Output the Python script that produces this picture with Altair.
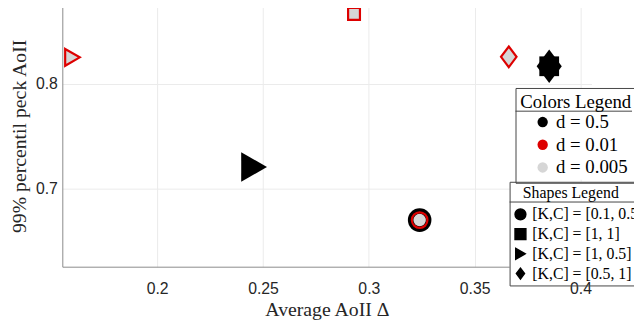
import altair as alt
import pandas as pd

# ---------------- data ----------------
D_LABELS = ["d = 0.5", "d = 0.01", "d = 0.005"]
KC_LABELS = ["[K,C] = [0.1, 0.5]", "[K,C] = [1, 1]", "[K,C] = [1, 0.5]", "[K,C] = [0.5, 1]"]
X_TICKS = [0.2, 0.25, 0.3, 0.35, 0.4]
Y_TICKS = [0.7, 0.8]

# d = 0.5 (black)
black_x = [0.3240, 0.2458, 0.3852, 0.3852]
black_y = [0.6700, 0.7208, 0.8170, 0.8170]
black_kc = ["[K,C] = [0.1, 0.5]", "[K,C] = [1, 0.5]", "[K,C] = [1, 1]", "[K,C] = [0.5, 1]"]

# d = 0.005 (gray)
gray_x = [0.3240, 0.2930, 0.1600, 0.3661]
gray_y = [0.6700, 0.8670, 0.8255, 0.8260]
gray_kc = ["[K,C] = [0.1, 0.5]", "[K,C] = [1, 1]", "[K,C] = [1, 0.5]", "[K,C] = [0.5, 1]"]

# d = 0.01 (red)
red_x = [0.3240, 0.2930, 0.1600, 0.3661]
red_y = [0.6700, 0.8670, 0.8255, 0.8260]
red_kc = ["[K,C] = [0.1, 0.5]", "[K,C] = [1, 1]", "[K,C] = [1, 0.5]", "[K,C] = [0.5, 1]"]

# ---------------- styles ----------------
TRI = "M-0.87,-1L0.87,0L-0.87,1Z"
DIA = "M0,-1L0.75,0L0,1L-0.75,0Z"
SIZES = {
    "d = 0.5": {KC_LABELS[0]: 570, KC_LABELS[1]: 400, KC_LABELS[2]: 900, KC_LABELS[3]: 1156},
    "d = 0.005": {KC_LABELS[0]: 160, KC_LABELS[1]: 144, KC_LABELS[2]: 289, KC_LABELS[3]: 441},
    "d = 0.01": {KC_LABELS[0]: 250, KC_LABELS[1]: 144, KC_LABELS[2]: 289, KC_LABELS[3]: 441},
}


def frame(xs, ys, kcs, d):
    return pd.DataFrame({
        "x": xs, "y": ys, "kc": kcs, "d": [d] * len(xs),
        "sz": [SIZES[d][k] for k in kcs],
    })


df_black = frame(black_x, black_y, black_kc, D_LABELS[0])
df_gray = frame(gray_x, gray_y, gray_kc, D_LABELS[2])
df_red = frame(red_x, red_y, red_kc, D_LABELS[1])

x_scale = alt.Scale(domain=[0.1552, 0.4052], nice=False, zero=False)
y_scale = alt.Scale(domain=[0.6255, 0.8755], nice=False, zero=False)
color_scale = alt.Scale(domain=D_LABELS, range=["#000000", "#dd0000", "#d6d6d6"])
shape_scale = alt.Scale(domain=KC_LABELS, range=["circle", "square", TRI, DIA])

x_enc = alt.X("x:Q", scale=x_scale,
              axis=alt.Axis(values=X_TICKS, format="~g", title="Average AoII Δ",
                            labelPadding=14, titlePadding=3))
y_enc = alt.Y("y:Q", scale=y_scale,
              axis=alt.Axis(values=Y_TICKS, format="~g", title="99% percentil peck AoII",
                            labelPadding=5, titlePadding=6))

# legend boxes (plot-area pixel coordinates)
CL_X, CL_Y, CL_W, CL_H = 459, 84, 118, 93
SL_X, SL_Y, SL_W, SL_H = 453, 179, 200, 100

color_legend = alt.Legend(
    title="Colors Legend", orient="none", legendX=CL_X, legendY=CL_Y,
    strokeColor="#444444", padding=5,
    titleFont="Liberation Serif", titleFontSize=19, titleFontWeight="normal",
    titleColor="black", titleAnchor="middle", titlePadding=1,
    labelFont="Liberation Serif", labelFontSize=19, labelColor="black",
    symbolType="circle", symbolSize=110, symbolOffset=10, labelOffset=4, rowPadding=3,
    symbolOpacity=1, symbolStrokeWidth=0,
)
shape_legend = alt.Legend(
    title=" ", orient="none", legendX=SL_X, legendY=SL_Y,
    strokeColor="#444444", padding=3,
    titleFont="Liberation Serif", titleFontSize=15, titleFontWeight="normal",
    titleColor="black", titlePadding=7,
    labelFont="Liberation Serif", labelFontSize=16, labelColor="black",
    symbolSize=120, rowPadding=2, symbolFillColor="black", symbolStrokeColor="black",
    symbolOpacity=1, labelLimit=300,
)

box_df = pd.DataFrame({"k": [0]})
bg_colors = alt.Chart(box_df).mark_rect(color="white").encode(
    x=alt.value(CL_X), x2=alt.value(CL_X + CL_W), y=alt.value(CL_Y), y2=alt.value(CL_Y + CL_H)
)
bg_shapes = alt.Chart(box_df).mark_rect(color="white").encode(
    x=alt.value(SL_X), x2=alt.value(SL_X + SL_W), y=alt.value(SL_Y), y2=alt.value(SL_Y + SL_H)
)
sep_colors = alt.Chart(box_df).mark_rule(color="#444444", strokeWidth=1).encode(
    x=alt.value(CL_X), x2=alt.value(CL_X + CL_W), y=alt.value(CL_Y + 23.5)
)
sep_shapes = alt.Chart(box_df).mark_rule(color="#444444", strokeWidth=1).encode(
    x=alt.value(SL_X), x2=alt.value(SL_X + SL_W), y=alt.value(SL_Y + 20.5)
)
shapes_title = alt.Chart(box_df).mark_text(
    font="Liberation Serif", fontSize=16, color="black", align="center", baseline="middle"
).encode(x=alt.value(SL_X + 62), y=alt.value(SL_Y + 11), text=alt.value("Shapes Legend"))

black = alt.Chart(df_black).mark_point(filled=True, opacity=1, color="black").encode(
    x=x_enc, y=y_enc,
    color=alt.Color("d:N", scale=color_scale, legend=color_legend),
    shape=alt.Shape("kc:N", scale=shape_scale, legend=shape_legend),
    size=alt.Size("sz:Q", scale=None),
)

gray = alt.Chart(df_gray).mark_point(filled=True, opacity=1).encode(
    x="x:Q", y="y:Q",
    color=alt.Color("d:N", scale=color_scale, legend=None),
    shape=alt.Shape("kc:N", scale=shape_scale, legend=None),
    size=alt.Size("sz:Q", scale=None),
)

red = alt.Chart(df_red).mark_point(filled=False, opacity=1, strokeWidth=2.2).encode(
    x="x:Q", y="y:Q",
    color=alt.Color("d:N", scale=color_scale, legend=None),
    shape=alt.Shape("kc:N", scale=shape_scale, legend=None),
    size=alt.Size("sz:Q", scale=None),
)

chart = (
    alt.layer(bg_colors, bg_shapes, sep_colors, sep_shapes, shapes_title, black, gray, red)
    .properties(
        width=536, height=265,
        padding={"left": 55, "top": -5, "right": 43, "bottom": 53},
        autosize=alt.AutoSizeParams(type="none"),
    )
    .configure_view(stroke=None)
    .configure_axis(
        domainColor="#8a8a8a", domainWidth=1,
        gridColor="#ebebeb", gridWidth=1,
        ticks=False, tickSize=0,
        labelFont="Liberation Sans", labelFontSize=16, labelColor="#262626",
        titleFont="Liberation Serif", titleFontSize=20, titleFontWeight="normal",
        titleColor="#262626",
    )
)

chart.save("out.html", embed_options={"renderer": "svg", "actions": False})
